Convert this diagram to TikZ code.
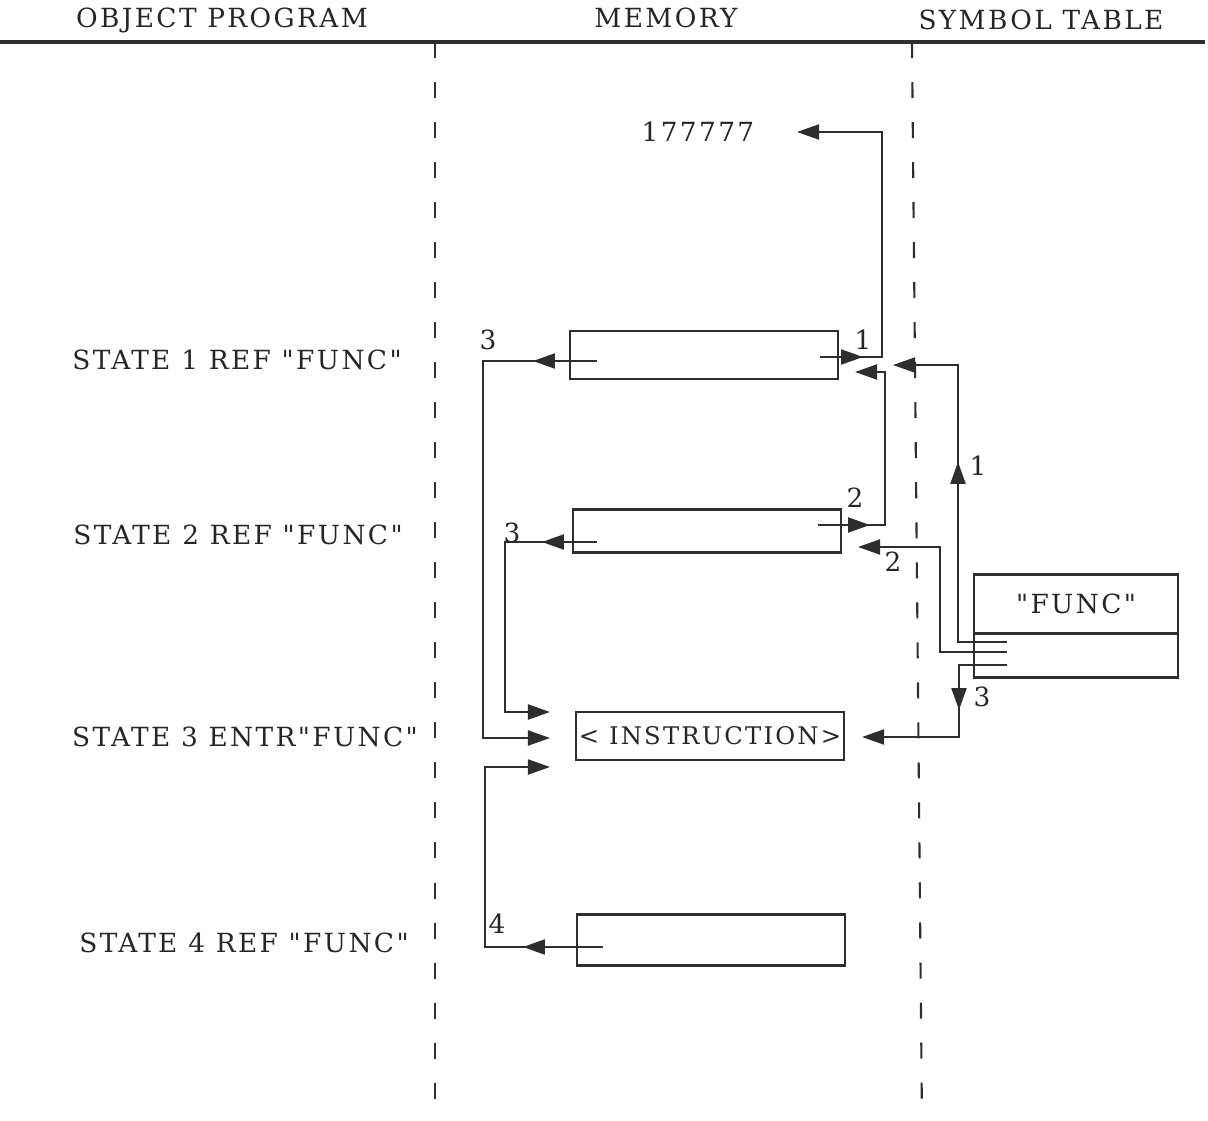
\documentclass[tikz,border=0pt]{standalone}
\usepackage{fontspec}
\setmainfont{DejaVu Serif}[LetterSpace=9, Ligatures=TeXOff]
\usetikzlibrary{arrows.meta,decorations.markings}
\definecolor{mmink}{HTML}{2E2E2E}
\tikzset{
  mmline/.style={draw=mmink, line width=0.6pt},
  mmptr/.style={mmline, -{Triangle[length=0.22cm,width=0.15cm]}},
  mmmid/.style={postaction={decorate}, decoration={markings,
      mark=at position #1 with {\arrow{Triangle[length=0.22cm,width=0.15cm]}}}},
  mmtext/.style={font=\fontsize{7.5}{9}\selectfont, text=black!85, inner sep=0pt},
  mmbox/.style={mmtext, draw=mmink, line width=0.6pt, outer sep=0pt, minimum width=2.68cm},
  mmnum/.style={mmtext},
  mmcol/.style={draw=mmink, line width=0.6pt, dash pattern=on 0.16cm off 0.24cm},
}
\begin{document}
\begin{tikzpicture}[x=0.01cm,y=-0.01cm]
  \useasboundingbox (0,0) rectangle (1208,1121);
  % column heads and separators
  \node[mmtext] (hobj) at (222,20) {OBJECT PROGRAM};
  \node[mmtext] (hmem) at (666,18) {MEMORY};
  \node[mmtext] (hsym) at (1041,20) {SYMBOL TABLE};
  \draw[mmink,line width=1pt] (0,42) -- (1205,42);
  \draw[mmcol] (435,42) -- (435,1121);
  \draw[mmcol] (912,42) -- (922,1121);

  % object program
  \node[mmtext] (st1) at (237,360) {STATE 1 REF "FUNC"};
  \node[mmtext] (st2) at (238,535) {STATE 2 REF "FUNC"};
  \node[mmtext] (st3) at (245,737) {STATE 3 ENTR"FUNC"};
  \node[mmtext] (st4) at (244,943) {STATE 4 REF "FUNC"};

  % memory
  \node[mmtext] (endval) at (698,132) {177777};
  \node[mmbox, minimum height=0.48cm] (slot1) at (704,355) {};
  \node[mmbox, minimum height=0.43cm] (slot2) at (707,531) {};
  \node[mmbox, minimum height=0.48cm, font=\fontsize{6.9}{9}\selectfont] (instr) at (710,736) {< INSTRUCTION>};
  \node[mmbox, minimum height=0.51cm] (slot4) at (711,940) {};

  % symbol table
  \node[mmbox, minimum width=2.03cm, minimum height=0.59cm] (symname) at (1076,604) {"FUNC"};
  \node[mmbox, minimum width=2.03cm, minimum height=0.44cm, anchor=north] (symptr) at (symname.south) {};

  \coordinate (r1) at (820,357);
  \coordinate (r2) at (818,525);
  \coordinate (l1) at (597,361);
  \coordinate (l2) at (597,542);
  \coordinate (l4) at (603,947);
  \coordinate (s1) at (1007,642);
  \coordinate (s2) at (1007,652);
  \coordinate (s3) at (1007,665);
  \coordinate (endtip) at (797,132);
  \coordinate (at1a) at (855,372);
  \coordinate (at1b) at (893,365);
  \coordinate (at2) at (858,547);
  \coordinate (at3) at (862,737);
  \coordinate (in3a) at (550,712);
  \coordinate (in3b) at (550,738);
  \coordinate (in3c) at (550,767);

  % pointer chains
  \draw[mmptr, mmmid=0.43cm] (r1) -- (882,357) |- (endtip);
  \draw[mmptr, mmmid=0.52cm] (r2) -- (885,525) |- (at1a);
  \draw[mmptr, mmmid=2.29cm] (s1) -| (958,365) -- (at1b);
  \draw[mmptr] (s2) -| (940,547) -- (at2);
  \draw[mmptr, mmmid=0.93cm] (s3) -| (959,737) -- (at3);
  \draw[mmptr, mmmid=0.64cm] (l1) -| (483,738) -- (in3b);
  \draw[mmptr, mmmid=0.55cm] (l2) -| (505,712) -- (in3a);
  \draw[mmptr, mmmid=0.80cm] (l4) -| (485,767) -- (in3c);

  \node[mmnum] (n1a) at (863,340) {1};
  \node[mmnum] (n2a) at (855,498) {2};
  \node[mmnum] (n1b) at (978,466) {1};
  \node[mmnum] (n2b) at (893,562) {2};
  \node[mmnum] (n3c) at (982,697) {3};
  \node[mmnum] (n3a) at (488,340) {3};
  \node[mmnum] (n3b) at (512,533) {3};
  \node[mmnum] (n4) at (497,924) {4};
\end{tikzpicture}
\end{document}
